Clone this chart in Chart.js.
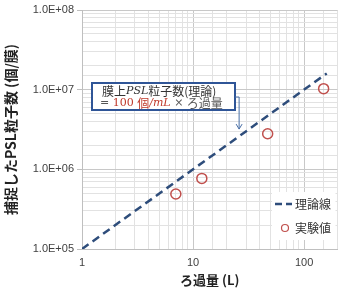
<!DOCTYPE html>
<html>
<head>
<meta charset="utf-8">
<script src="https://cdn.jsdelivr.net/npm/chart.js@4/dist/chart.umd.min.js"></script>
<style>
  html, body { margin: 0; padding: 0; background: #fff; }
  #wrap { width: 344px; height: 288px; }
</style>
</head>
<body>
<div id="wrap"><canvas id="chart" width="344" height="288"></canvas></div>
<script>
// データ
const volumes = [7, 12, 47, 150];                 // ろ過量 (L)
const measured = [4.9e5, 7.7e5, 2.8e6, 1.03e7];   // 実験値
const theoryX = [1, 160];
const theoryY = [1e5, 1.6e7];                     // 理論線 (100個/mL × ろ過量)
const xTicks = [1, 10, 100];
const yTicks = [1e5, 1e6, 1e7, 1e8];
const legendLabels = ['理論線', '実験値'];

const JP = '"Noto Sans CJK JP", sans-serif';
const SERIF = '"DejaVu Serif", serif';
const LINE_COLOR = '#2e4d7b';
const POINT_COLOR = '#c0504d';

function isMajor(v, list) {
    return list.some(t => Math.abs(v - t) / t < 1e-6);
}

function sciLabel(v) {
    const e = Math.round(Math.log10(v));
    return '1.0E+' + String(e).padStart(2, '0');
}

// 吹き出しと凡例
const overlay = {
    id: 'overlay',
    afterDraw(chart) {
        const ctx = chart.ctx;
        const a = chart.chartArea;
        const xs = chart.scales.x, ys = chart.scales.y;
        ctx.save();

        // 注釈ボックス
        const bx = 92, by = 83, bw = 143, bh = 27;
        ctx.fillStyle = '#fff';
        ctx.fillRect(bx, by, bw, bh);
        ctx.strokeStyle = '#2f5597';
        ctx.lineWidth = 2;
        ctx.strokeRect(bx, by, bw, bh);

        ctx.textBaseline = 'middle';
        let x, y;
        function part(text, font, color) {
            ctx.font = font;
            ctx.fillStyle = color;
            ctx.fillText(text, x, y);
            x += ctx.measureText(text).width;
        }
        x = bx + 10; y = by + 8;
        part('膜上', '12px ' + JP, '#333');
        part('PSL', 'italic 11px ' + SERIF, '#333');
        part('粒子数(理論)', '12px ' + JP, '#333');
        x = bx + 8; y = by + 20;
        part('= ', '11px ' + SERIF, '#555');
        part('100 ', '11px ' + SERIF, '#c0392b');
        part('個', '12px ' + JP, '#c0392b');
        part('/mL', 'italic 11px ' + SERIF, '#c0392b');
        part(' × ', '11px ' + SERIF, '#555');
        part('ろ過量', '12px ' + JP, '#555');

        // 矢印
        const tipX = xs.getPixelForValue(26);
        const tipY = ys.getPixelForValue(3.2e6);
        ctx.strokeStyle = '#4a6fa5';
        ctx.lineWidth = 1;
        ctx.beginPath();
        ctx.moveTo(bx + bw, by + 14);
        ctx.lineTo(tipX, by + 14);
        ctx.lineTo(tipX, tipY);
        ctx.stroke();
        ctx.beginPath();
        ctx.moveTo(tipX - 3, tipY - 5);
        ctx.lineTo(tipX, tipY);
        ctx.lineTo(tipX + 3, tipY - 5);
        ctx.stroke();

        // 凡例
        const lx = 272, ly = 192;
        ctx.fillStyle = '#fff';
        ctx.fillRect(lx, ly, a.right - lx - 2, 48);
        ctx.strokeStyle = LINE_COLOR;
        ctx.lineWidth = 2.5;
        ctx.setLineDash([7, 4]);
        ctx.beginPath();
        ctx.moveTo(lx + 3, ly + 12);
        ctx.lineTo(lx + 20, ly + 12);
        ctx.stroke();
        ctx.setLineDash([]);
        ctx.strokeStyle = POINT_COLOR;
        ctx.lineWidth = 1.2;
        ctx.beginPath();
        ctx.arc(lx + 13, ly + 36, 3.5, 0, Math.PI * 2);
        ctx.stroke();
        ctx.font = '12px ' + JP;
        ctx.fillStyle = '#333';
        ctx.textAlign = 'left';
        ctx.fillText(legendLabels[0], lx + 23, ly + 12);
        ctx.fillText(legendLabels[1], lx + 23, ly + 36);

        ctx.restore();
    }
};

new Chart(document.getElementById('chart'), {
    type: 'scatter',
    data: {
        datasets: [
            {
                label: legendLabels[1],
                data: volumes.map((v, i) => ({ x: v, y: measured[i] })),
                showLine: false,
                pointStyle: 'circle',
                pointRadius: 5,
                pointBackgroundColor: 'rgba(0,0,0,0)',
                pointBorderColor: POINT_COLOR,
                pointBorderWidth: 1.5
            },
            {
                label: legendLabels[0],
                data: theoryX.map((v, i) => ({ x: v, y: theoryY[i] })),
                showLine: true,
                borderColor: LINE_COLOR,
                borderWidth: 2.5,
                borderDash: [8, 5],
                pointRadius: 0
            }
        ]
    },
    options: {
        responsive: false,
        animation: false,
        layout: { padding: { left: 2, right: 4, top: 10, bottom: 0 } },
        plugins: { legend: { display: false }, tooltip: { enabled: false } },
        scales: {
            x: {
                type: 'logarithmic',
                min: 1,
                max: 200,
                afterFit(s) { s.height = 39; },
                border: { color: '#bfbfbf' },
                grid: {
                    color: c => isMajor(c.tick.value, xTicks) ? '#c8c8c8' : '#e2e2e2',
                    tickLength: 4,
                    tickColor: 'rgba(0,0,0,0)'
                },
                ticks: {
                    autoSkip: false,
                    maxRotation: 0,
                    color: '#404040',
                    font: { family: '"Liberation Sans", Arial, sans-serif', size: 11 },
                    callback: v => isMajor(v, xTicks) ? String(v) : ''
                },
                title: {
                    display: true,
                    text: 'ろ過量 (L)',
                    color: '#222',
                    padding: { top: 0, bottom: 0 },
                    font: { family: JP, size: 13, weight: 'bold' }
                }
            },
            y: {
                type: 'logarithmic',
                min: 1e5,
                max: 1e8,
                afterFit(s) { s.width = 80; },
                border: { color: '#bfbfbf' },
                grid: {
                    color: c => isMajor(c.tick.value, yTicks) ? '#c8c8c8' : '#e2e2e2',
                    tickLength: 5,
                    tickColor: c => isMajor(c.tick.value, yTicks) ? '#bfbfbf' : 'rgba(0,0,0,0)'
                },
                ticks: {
                    autoSkip: false,
                    color: '#404040',
                    padding: 3,
                    font: { family: '"Liberation Sans", Arial, sans-serif', size: 11 },
                    callback: v => isMajor(v, yTicks) ? sciLabel(v) : ''
                },
                title: {
                    display: true,
                    text: '捕捉したPSL粒子数 (個/膜)',
                    color: '#222',
                    padding: { top: 0, bottom: 2 },
                    font: { family: JP, size: 14, weight: 'bold' }
                }
            }
        }
    },
    plugins: [overlay]
});
</script>
</body>
</html>
